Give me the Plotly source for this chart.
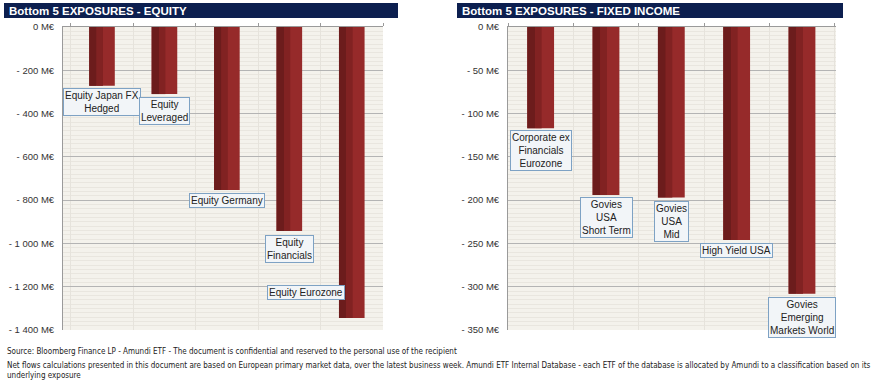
import plotly.graph_objects as go

# ---------------- data ----------------
eq_categories = ["Equity Japan FX Hedged", "Equity Leveraged", "Equity Germany",
                 "Equity Financials", "Equity Eurozone"]
eq_labels = ["Equity Japan FX<br>Hedged", "Equity<br>Leveraged", "Equity Germany",
             "Equity<br>Financials", "Equity Eurozone"]
eq_values = [-272, -310, -753, -943, -1345]

fi_categories = ["Corporate ex Financials Eurozone", "Govies USA Short Term", "Govies USA Mid",
                 "High Yield USA", "Govies Emerging Markets World"]
fi_labels = ["Corporate ex<br>Financials<br>Eurozone", "Govies<br>USA<br>Short Term",
             "Govies<br>USA<br>Mid", "High Yield USA", "Govies<br>Emerging<br>Markets World"]
fi_values = [-117, -194, -197, -246, -308]

eq_tickvals = [0, -200, -400, -600, -800, -1000, -1200, -1400]
eq_ticktext = ["0 M€", "- 200 M€", "- 400 M€", "- 600 M€", "- 800 M€",
               "- 1 000 M€", "- 1 200 M€", "- 1 400 M€"]
fi_tickvals = [0, -50, -100, -150, -200, -250, -300, -350]
fi_ticktext = ["0 M€", "- 50 M€", "- 100 M€", "- 150 M€", "- 200 M€",
               "- 250 M€", "- 300 M€", "- 350 M€"]

titles = ["Bottom 5 EXPOSURES - EQUITY", "Bottom 5 EXPOSURES - FIXED INCOME"]
source_line = "Source: Bloomberg Finance LP - Amundi ETF - The document is confidential and reserved to the personal use of the recipient"
note_line = ("Net flows calculations presented in this document are based on European primary market data, "
             "over the latest business week. Amundi ETF Internal Database - each ETF of the database is allocated "
             "by Amundi to a classification based on its<br>underlying exposure")

# ---------------- figure ----------------
W, H = 875, 384
def px(x): return x / W
def py(y): return 1 - y / H

BW = 0.41
# (color, width, offset) layers to imitate the shaded bars
layers = [("#962a2a", BW, -BW / 2), ("#6c1c1c", 0.12, -BW / 2), ("#812222", 0.10, -BW / 2 + 0.12)]

fig = go.Figure()
for cats, vals, xa, ya in [(eq_categories, eq_values, "x", "y"), (fi_categories, fi_values, "x2", "y2")]:
    for col, w, off in layers:
        fig.add_trace(go.Bar(x=cats, y=vals, marker=dict(color=col, line=dict(width=0)),
                             width=w, offset=off, xaxis=xa, yaxis=ya, hoverinfo="x+y"))

axis_font = dict(family="Liberation Sans, Arial, sans-serif", size=9.5, color="#333333")
xcommon = dict(showticklabels=False, side="top", showline=True, linecolor="#9a9a9a", linewidth=1,
               ticks="outside", tickson="boundaries", ticklen=3, tickcolor="#9a9a9a",
               showgrid=True, gridcolor="#e6e3dc", gridwidth=1, zeroline=False, fixedrange=True,
               automargin=False)
ycommon = dict(showline=True, linecolor="#9a9a9a", linewidth=1, showgrid=True, gridcolor="#b4b4b4",
               gridwidth=1, zeroline=False, ticks="", tickfont=axis_font, ticklabelstandoff=6,
               automargin=False)

fig.update_layout(
    width=W, height=H, margin=dict(l=0, r=0, t=0, b=0, autoexpand=False), barmode="overlay",
    paper_bgcolor="white", plot_bgcolor="#f4f2ec", showlegend=False,
    xaxis=dict(domain=[px(63), px(383)], anchor="y", **xcommon),
    yaxis=dict(domain=[py(330), py(27)], anchor="x", range=[-1400, 0],
               tickvals=eq_tickvals, ticktext=eq_ticktext, **ycommon),
    xaxis2=dict(domain=[px(508), px(836)], anchor="y2", **xcommon),
    yaxis2=dict(domain=[py(330), py(27)], anchor="x2", range=[-350, 0],
                tickvals=fi_tickvals, ticktext=fi_ticktext, **ycommon),
)
fig.update_yaxes(minor=dict(showgrid=True, gridcolor="#e9e6df", nticks=20))

# title bars
for (x0, x1), t in zip([(4, 398), (457, 843)], titles):
    fig.add_shape(type="rect", xref="paper", yref="paper", x0=px(x0), x1=px(x1),
                  y0=py(18), y1=py(3), fillcolor="#0c1f4f", line=dict(width=0), layer="above")
    fig.add_annotation(xref="paper", yref="paper", x=px(x0 + 3), y=py(10.5), text=t,
                       showarrow=False, xanchor="left", yanchor="middle",
                       font=dict(family="Liberation Sans, Arial, sans-serif", size=11.5,
                                 color="white", weight="bold"))

label_font = dict(family="Liberation Sans, Arial, sans-serif", size=10, color="#222222")
def add_labels(cats, vals, labels, xr, yr, shifts):
    for c, v, l, (dx, dy) in zip(cats, vals, labels, shifts):
        fig.add_annotation(xref=xr, yref=yr, x=c, y=v, text=l, showarrow=False,
                           xanchor="center", yanchor="top", xshift=dx, yshift=dy,
                           font=label_font, align="center",
                           bgcolor="#f2f5f8", bordercolor="#7ea2c4", borderwidth=1, borderpad=1)

add_labels(eq_categories, eq_values, eq_labels, "x", "y",
           [(0, -2), (0, -3), (0, -3), (0, -4), (-46, 33)])
add_labels(fi_categories, fi_values, fi_labels, "x2", "y2",
           [(0, -2), (0, -2), (0, -3), (0, -3), (0, -3)])

foot_font = dict(family="Liberation Sans Narrow, Arial Narrow, DejaVu Sans Condensed, sans-serif",
                 size=8, color="#222222")
fig.add_annotation(xref="paper", yref="paper", x=px(5), y=py(351), text=source_line,
                   showarrow=False, xanchor="left", yanchor="middle", font=foot_font)
fig.add_annotation(xref="paper", yref="paper", x=px(5), y=py(365), text=note_line,
                   showarrow=False, xanchor="left", yanchor="middle", align="left", font=foot_font,
                   yshift=-5)

fig.write_html("out.html", config=dict(displayModeBar=False),
               post_script="document.body.style.margin='0';document.body.style.overflow='hidden';")
